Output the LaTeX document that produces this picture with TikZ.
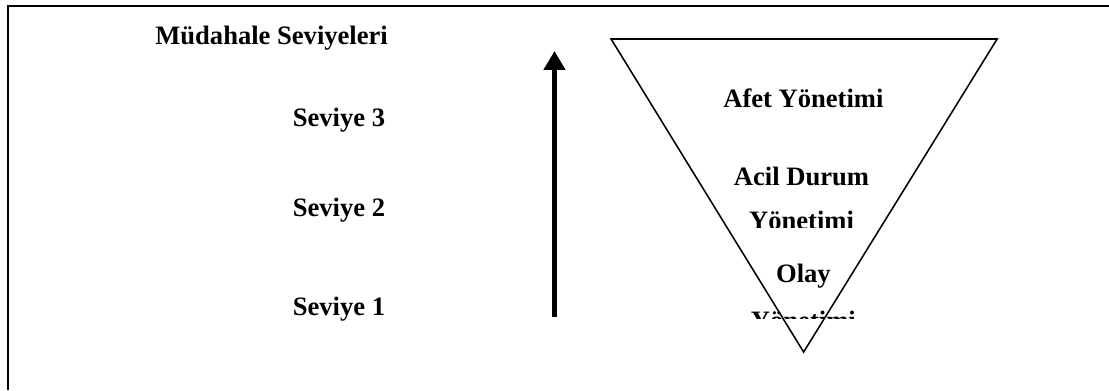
\documentclass[tikz,border=0pt]{standalone}
\usepackage{fontspec}
\setmainfont{Liberation Serif}
\usetikzlibrary{arrows.meta}

\begin{document}
\begin{tikzpicture}[
  every node/.style={font=\fontsize{12}{14}\selectfont\bfseries, inner sep=0pt},
  lbl/.style={anchor=base, align=center},
  frame/.style={line width=0.9pt},
  funnel/.style={line width=0.7pt, line join=miter},
  >={Triangle[length=0.30cm, width=0.33cm]},
]
  \useasboundingbox (0,0) rectangle (17.60,6.19);

  % Outer frame (top and left edge only)
  \draw[frame] (17.60,6.087) -- (0.127,6.087) -- (0.127,0);

  % Level labels
  \node[lbl] (title) at (4.31,5.476) {Müdahale Seviyeleri};
  \node[lbl] (lvl3) at (5.38,4.175) {Seviye 3};
  \node[lbl] (lvl2) at (5.38,2.746) {Seviye 2};
  \node[lbl] (lvl1) at (5.38,1.190) {Seviye 1};

  % Escalation arrow
  \coordinate (up0) at (8.80,1.159);
  \coordinate (up1) at (8.80,5.381);
  \draw[->, line width=2.2pt] (up0) -- (up1);

  % Management types inside the funnel
  \node[lbl] (afet) at (12.75,4.476) {Afet Yönetimi};
  \node[lbl] (acil) at (12.72,3.238) {Acil Durum};
  \begin{scope}
    \clip (10.5,2.587) rectangle (15,3.1);
    \node[lbl] (acilb) at (12.72,2.540) {Yönetimi};
  \end{scope}
  \node[lbl] (olay) at (12.75,1.714) {Olay};
  \begin{scope}
    \clip (10.5,1.143) rectangle (15,1.6);
    \node[lbl] (olayb) at (12.75,0.968) {Yönetimi};
  \end{scope}

  % Inverted triangle
  \draw[funnel] (9.698,5.571) -- (15.825,5.571) -- (12.754,0.603) -- cycle;
\end{tikzpicture}
\end{document}
